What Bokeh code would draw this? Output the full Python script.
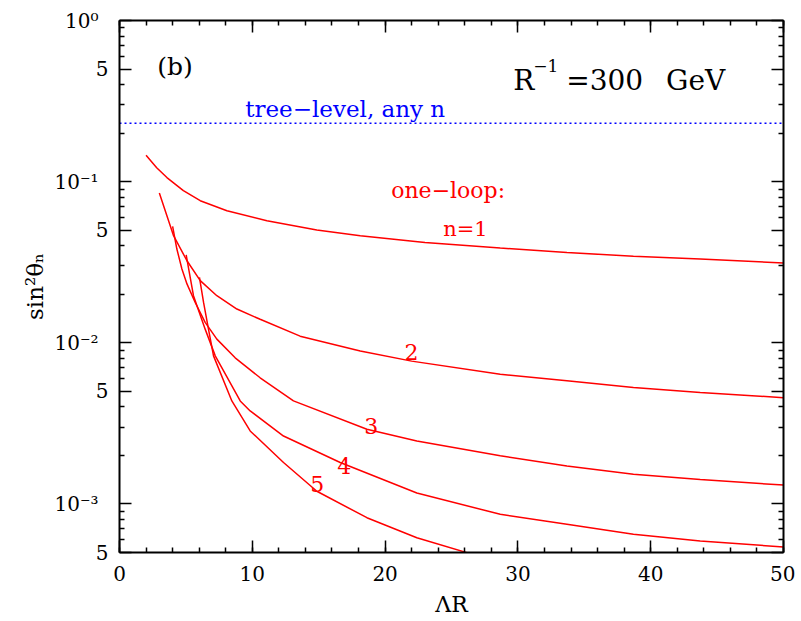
import math
from bokeh.plotting import figure
from bokeh.models import (Range1d, LinearAxis, LogAxis, FixedTicker, SingleIntervalTicker,
                          CustomJSTickFormatter, Label)
from bokeh.embed import file_html
from bokeh.resources import INLINE

# ---- data ----
tree_x = [0.0, 50.0]
tree_y = [0.23, 0.23]

n1_x = [2.0, 2.8, 3.57, 4.81, 6.08, 8.09, 11.1, 14.86, 18.13, 23.0, 28.67, 33.69, 38.7, 43.73, 50.0]
n1_y = [0.146, 0.122, 0.106, 0.0879, 0.0762, 0.0660, 0.0572, 0.0501, 0.0462, 0.0420, 0.0387, 0.0364, 0.0344, 0.0331, 0.0313]

n2_x = [3.0, 3.57, 4.07, 5.08, 6.08, 7.33, 8.84, 10.59, 13.6, 18.13, 22.0, 28.67, 33.69, 38.7, 43.73, 50.0]
n2_y = [0.0851, 0.0615, 0.0462, 0.0323, 0.0243, 0.0196, 0.0162, 0.0140, 0.0110, 0.0089, 0.0077, 0.00639, 0.00581, 0.00528, 0.00491, 0.00457]

n3_x = [4.0, 4.32, 4.70, 5.08, 5.70, 6.45, 7.33, 8.71, 10.59, 13.1, 18.63, 22.39, 28.67, 33.69, 38.7, 43.73, 50.0]
n3_y = [0.0528, 0.0382, 0.0287, 0.0232, 0.0178, 0.0134, 0.01054, 0.00807, 0.00607, 0.00436, 0.00291, 0.00246, 0.00199, 0.00172, 0.00153, 0.00142, 0.00131]

n4_x = [5.02, 5.57, 6.45, 7.21, 9.09, 9.84, 12.35, 16.62, 22.39, 28.67, 33.69, 38.7, 43.73, 50.0]
n4_y = [0.0351, 0.0196, 0.01216, 0.0083, 0.00436, 0.00378, 0.00264, 0.00181, 0.00117, 0.000863, 0.000748, 0.000648, 0.000589, 0.000541]

n5_x = [6.02, 6.33, 6.70, 7.08, 8.46, 9.84, 12.35, 14.86, 18.63, 22.39, 26.16, 27.0]
n5_y = [0.0255, 0.0178, 0.01216, 0.0083, 0.00436, 0.00284, 0.00181, 0.00120, 0.000822, 0.000617, 0.000499, 0.000475]

x_range = (0, 50)
y_range = (5e-4, 1.0)
y_major = [5e-4, 1e-3, 5e-3, 1e-2, 5e-2, 1e-1, 5e-1, 1.0]
y_minor = [6e-4, 7e-4, 8e-4, 9e-4, 2e-3, 3e-3, 4e-3, 6e-3, 7e-3, 8e-3, 9e-3,
           2e-2, 3e-2, 4e-2, 6e-2, 7e-2, 8e-2, 9e-2, 0.2, 0.3, 0.4, 0.6, 0.7, 0.8, 0.9]

FONT = "DejaVu Serif"

p = figure(width=795, height=621, x_range=Range1d(*x_range), y_range=Range1d(*y_range),
           y_axis_type="log", output_backend="svg", toolbar_location=None,
           min_border_left=119, min_border_right=12, min_border_top=20, min_border_bottom=69)
p.grid.visible = False
p.outline_line_color = None
p.background_fill_color = "white"
p.border_fill_color = "white"

# decade labels get a trailing en space so they sit further left than the "5" labels
fmt = CustomJSTickFormatter(code="""
const lg = Math.log10(tick);
const r = Math.round(lg);
if (Math.abs(lg - r) < 1e-6) {
  const sup = ["\u2070", "\u00b9", "\u00b2", "\u00b3", "\u2074"];
  return (r == 0 ? "10" + sup[0] : "10\u207b" + sup[-r]) + "\u2002";
}
return String(Math.round(tick / Math.pow(10, Math.floor(lg + 1e-9))));
""")


def style(ax, show_labels):
    ax.axis_line_width = 2
    ax.axis_line_color = "black"
    ax.major_tick_in = 12
    ax.major_tick_out = 0
    ax.minor_tick_in = 5
    ax.minor_tick_out = 0
    ax.major_tick_line_width = 1.5
    ax.minor_tick_line_width = 1.5
    ax.major_tick_line_color = "black"
    ax.minor_tick_line_color = "black"
    if show_labels:
        ax.major_label_text_font = FONT
        ax.major_label_text_font_size = "20px"
        ax.major_label_text_color = "black"
    else:
        ax.major_label_text_font_size = "1px"
        ax.major_label_text_color = None
        ax.major_label_standoff = 0


xb = p.xaxis[0]
xb.ticker = SingleIntervalTicker(interval=10, num_minor_ticks=5)
style(xb, True)
xb.major_label_standoff = 13
xb.axis_label = "\u039bR"
xb.axis_label_text_font = FONT
xb.axis_label_text_font_size = "22px"
xb.axis_label_text_font_style = "normal"
xb.axis_label_text_color = "black"
xb.axis_label_standoff = 8

yl = p.yaxis[0]
yl.ticker = FixedTicker(ticks=y_major, minor_ticks=y_minor)
yl.formatter = fmt
style(yl, True)
yl.major_label_standoff = 11
yl.axis_label = "sin\u00b2\u03b8\u2099"
yl.axis_label_text_font = FONT
yl.axis_label_text_font_size = "23px"
yl.axis_label_text_font_style = "normal"
yl.axis_label_text_color = "black"
yl.axis_label_standoff = 3

xt = LinearAxis(ticker=SingleIntervalTicker(interval=10, num_minor_ticks=5))
style(xt, False)
p.add_layout(xt, "above")

yr = LogAxis(ticker=FixedTicker(ticks=y_major, minor_ticks=y_minor))
style(yr, False)
p.add_layout(yr, "right")

# curves
p.line(tree_x, tree_y, line_color="#0000ff", line_width=1.5, line_dash="2 3")
for xs, ys in [(n1_x, n1_y), (n2_x, n2_y), (n3_x, n3_y), (n4_x, n4_y), (n5_x, n5_y)]:
    p.line(xs, ys, line_color="#ff0000", line_width=1.5)


def lab(x, y, text, size, color="black", align="left", baseline="alphabetic"):
    p.add_layout(Label(x=x, y=y, text=text, text_font=FONT, text_font_size=size,
                       text_color=color, text_align=align, text_baseline=baseline))


lab(2.85, 0.518, "(b)", "25px", baseline="middle")
lab(29.65, 0.427, "R", "28px")
lab(31.15, 0.5255, "\u22121", "17px")
lab(33.64, 0.427, "=300\u2002 GeV", "28px")
lab(9.47, 0.284, "tree\u2212level, any n", "23px", color="#0000ff")
lab(20.46, 0.0879, "one\u2212loop:", "22px", color="#ff0000")
lab(24.37, 0.0511, "n=1", "21px", color="#ff0000")
lab(21.98, 0.00871, "2", "22px", color="#ff0000", align="center")
lab(18.95, 0.00305, "3", "22px", color="#ff0000", align="center")
lab(16.92, 0.00172, "4", "22px", color="#ff0000", align="center")
lab(14.89, 0.00133, "5", "22px", color="#ff0000", align="center")

open("out.html", "w").write(file_html(p, INLINE))
